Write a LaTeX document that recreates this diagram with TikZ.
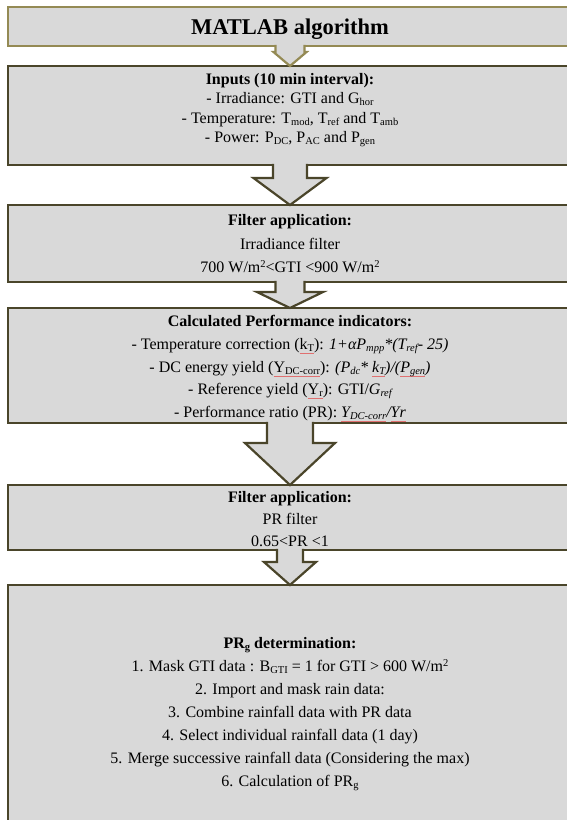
\documentclass[tikz,border=0pt]{standalone}
\usepackage{fontspec}
\setmainfont{Liberation Serif}
\usetikzlibrary{calc}
\definecolor{boxfill}{HTML}{D9D9D9}
\definecolor{darkol}{HTML}{4A452A}
\definecolor{oliv}{HTML}{948A54}
\definecolor{spellred}{HTML}{E07070}
\newcommand{\subx}[1]{\raisebox{-2.2pt}{\fontsize{10.5pt}{10pt}\selectfont #1}}
\newcommand{\supx}[1]{\raisebox{5pt}{\fontsize{10.5pt}{10pt}\selectfont #1}}
% thin red spell-check underline
\newcommand{\rw}[1]{\setbox0=\hbox{#1}\rlap{\textcolor{spellred}{\rule[-4.4pt]{\wd0}{0.6pt}}}\box0}
\tikzset{
  box/.style={draw=darkol, fill=boxfill, line width=2.2pt, rectangle, inner sep=0pt, outer sep=0pt, minimum width=564pt},
  txt/.style={anchor=base, inner sep=0pt, font=\fontsize{16pt}{19pt}\selectfont},
  arrowline/.style={draw=darkol, line width=2.2pt, line join=miter}
}
% #1 from node, #2 to node, #3 shaft half width, #4 head half width, #5 head top below from.south, #6 colour
\newcommand{\barrow}[6]{%
  \fill[boxfill] ($(#1.south)+(-#3,-1.6)$) -- ($(#1.south)+(-#3,#5)$) -- ($(#1.south)+(-#4,#5)$) -- (#2.north)
     -- ($(#1.south)+(#4,#5)$) -- ($(#1.south)+(#3,#5)$) -- ($(#1.south)+(#3,-1.6)$) -- cycle;
  \draw[arrowline, draw=#6] ($(#1.south)+(-#3,-1.1)$) -- ($(#1.south)+(-#3,#5)$) -- ($(#1.south)+(-#4,#5)$) -- (#2.north)
     -- ($(#1.south)+(#4,#5)$) -- ($(#1.south)+(#3,#5)$) -- ($(#1.south)+(#3,-1.1)$);
}
\begin{document}
\begin{tikzpicture}[x=1pt,y=-1pt]
\useasboundingbox (0,0) rectangle (567,820);
\clip (0,0) rectangle (567,820);
\fill[white] (0,0) rectangle (567,820);

% boxes
\node[box, draw=oliv, minimum height=39pt] (b1) at (290,26.5) {};
\node[box, minimum height=99pt] (b2) at (290,115.5) {};
\node[box, minimum height=77pt] (b3) at (290,243.5) {};
\node[box, minimum height=115pt] (b4) at (290,365.5) {};
\node[box, minimum height=65pt] (b5) at (290,517.5) {};
\node[box, minimum height=265pt] (b6) at (290,717.5) {};

% block arrows
\barrow{b1}{b2}{14.5}{16.5}{6}{oliv}
\barrow{b2}{b3}{17}{36.5}{13}{darkol}
\barrow{b3}{b4}{14.5}{33}{10}{darkol}
\barrow{b4}{b5}{23}{45}{20}{darkol}
\barrow{b5}{b6}{13}{26}{12}{darkol}

% texts
\node[txt, font=\fontsize{22.5pt}{26pt}\selectfont\bfseries] (t1) at (290,34.5) {MATLAB algorithm};

\node[txt] (t2a) at (290,84) {\textbf{Inputs (10 min interval):}};
\node[txt] (t2b) at (290,103.5) {- Irradiance: GTI and G\subx{hor}};
\node[txt] (t2c) at (290,123) {- Temperature: T\subx{mod}, T\subx{ref} and T\subx{amb}};
\node[txt] (t2d) at (290,142.5) {- Power: P\subx{DC}, P\subx{AC} and P\subx{gen}};

\node[txt] (t3a) at (290,225) {\textbf{Filter application:}};
\node[txt] (t3b) at (290,249) {Irradiance filter};
\node[txt] (t3c) at (290,272) {700 W/m\supx{2}<GTI <900 W/m\supx{2}};

\node[txt] (t4a) at (290,326) {\textbf{Calculated Performance indicators:}};
\node[txt] (t4b) at (290,349) {- Temperature correction (\rw{k\subx{T}}): \textit{1+αP\subx{mpp}*(T\subx{ref}- 25)}};
\node[txt] (t4c) at (290,372) {- DC energy yield (\rw{Y\subx{DC-corr}}): \textit{(P\subx{dc}* \rw{k\subx{T}})/(\rw{P\subx{gen}})}};
\node[txt] (t4d) at (290,394) {- Reference yield (\rw{Y\subx{r}}): GTI/\textit{G\subx{ref}}};
\node[txt] (t4e) at (290,417) {- Performance ratio (PR): \textit{\rw{Y\subx{DC-corr}}/\rw{Yr}}};

\node[txt] (t5a) at (290,502) {\textbf{Filter application:}};
\node[txt] (t5b) at (290,524) {PR filter};
\node[txt] (t5c) at (290,546) {0.65<PR <1};

\node[txt] (t6a) at (290,648) {\textbf{PR\subx{g} determination:}};
\node[txt] (t6b) at (290,671) {1. Mask GTI data : B\subx{GTI} = 1 for GTI > 600 W/m\supx{2}};
\node[txt] (t6c) at (290,694) {2. Import and mask rain data:};
\node[txt] (t6d) at (290,717) {3. Combine rainfall data with PR data};
\node[txt] (t6e) at (290,740) {4. Select individual rainfall data (1 day)};
\node[txt] (t6f) at (290,763) {5. Merge successive rainfall data (Considering the max)};
\node[txt] (t6g) at (290,786) {6. Calculation of PR\subx{g}};
\end{tikzpicture}
\end{document}
